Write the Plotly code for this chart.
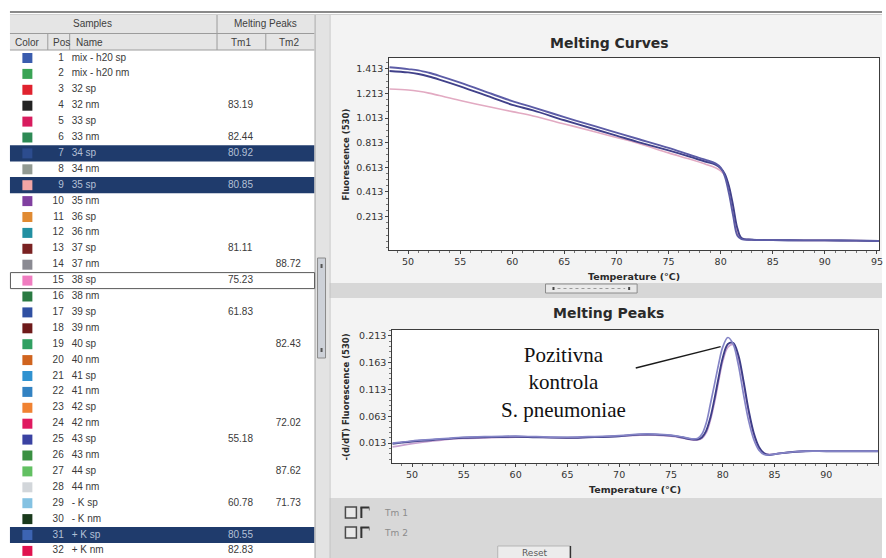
import plotly.graph_objects as go

W, H = 886, 558

# ---------------- sample list ----------------
positions = list(range(1, 33))
sample_names = ["mix - h20 sp", "mix - h20 nm", "32 sp", "32 nm", "33 sp", "33 nm", "34 sp", "34 nm",
                "35 sp", "35 nm", "36 sp", "36 nm", "37 sp", "37 nm", "38 sp", "38 nm",
                "39 sp", "39 nm", "40 sp", "40 nm", "41 sp", "41 nm", "42 sp", "42 nm",
                "43 sp", "43 nm", "44 sp", "44 nm", "- K sp", "- K nm", "+ K sp", "+ K nm"]
tm1_values = ["", "", "", "83.19", "", "82.44", "80.92", "", "80.85", "", "", "", "81.11", "", "75.23", "",
              "61.83", "", "", "", "", "", "", "", "55.18", "", "", "", "60.78", "", "80.55", "82.83"]
tm2_values = ["", "", "", "", "", "", "", "", "", "", "", "", "", "88.72", "", "",
              "", "", "82.43", "", "", "", "", "72.02", "", "", "87.62", "", "71.73", "", "", ""]
swatch_colors = ["#3a5cae", "#3aa455", "#e0222e", "#222222", "#d81c5e", "#2e8a55", "#2c4c8e", "#929a92",
                 "#f2a6a6", "#8040a0", "#e08a32", "#2290a2", "#7a2222", "#8a8a92", "#f07cc0", "#2a7a42",
                 "#3050a2", "#6e1a1a", "#30a062", "#d0641e", "#3092d0", "#3282c2", "#f08232", "#e01a60",
                 "#3a42a2", "#3a9042", "#62c062", "#d2d6da", "#84c2e2", "#1a3a1c", "#3c64b2", "#e0124e"]
selected_rows = [7, 9, 31]
focused_row = 15

# ---------------- melting curves ----------------
mc_temp = [48.2, 50, 51, 52, 53, 55, 58, 60, 62, 65, 68, 70, 72, 75, 77, 78.5, 79.5, 80.0,
           80.4, 80.8, 81.2, 81.6, 82.0, 83, 85, 88, 90, 93, 95.2]
mc_fluor_a = [1.425, 1.41, 1.40, 1.38, 1.355, 1.30, 1.21, 1.15, 1.10, 1.02, 0.945, 0.895, 0.845, 0.77,
              0.715, 0.675, 0.645, 0.61, 0.54, 0.40, 0.22, 0.06, 0.03, 0.025, 0.022, 0.02, 0.02, 0.018, 0.015]
mc_fluor_b = [1.395, 1.383, 1.37, 1.35, 1.325, 1.27, 1.18, 1.12, 1.075, 0.995, 0.92, 0.87, 0.82, 0.75,
              0.70, 0.66, 0.635, 0.605, 0.56, 0.46, 0.30, 0.12, 0.04, 0.026, 0.022, 0.02, 0.02, 0.018, 0.015]
mc_fluor_c = [1.248, 1.24, 1.23, 1.215, 1.195, 1.155, 1.10, 1.065, 1.03, 0.965, 0.90, 0.855, 0.81, 0.73,
              0.68, 0.64, 0.61, 0.585, 0.55, 0.45, 0.27, 0.08, 0.035, 0.025, 0.022, 0.02, 0.02, 0.018, 0.015]
mc_yticks = [0.213, 0.413, 0.613, 0.813, 1.013, 1.213, 1.413]

# ---------------- melting peaks ----------------
mp_temp = [48.1, 49, 50, 52, 54, 55, 57, 60, 62, 65, 67, 70, 72, 73.5, 75, 76, 77, 77.6, 78.0, 78.4,
           78.8, 79.2, 79.6, 80.0, 80.5, 81.0, 81.5, 82.0, 82.5, 83.0, 83.5, 84.0, 84.5, 85.5, 87, 88,
           90, 92, 95]
mp_deriv_a = [0.013, 0.015, 0.017, 0.020, 0.023, 0.024, 0.025, 0.026, 0.025, 0.024, 0.025, 0.027, 0.030,
              0.030, 0.028, 0.025, 0.021, 0.022, 0.030, 0.050, 0.085, 0.122, 0.160, 0.192, 0.210, 0.198,
              0.160, 0.105, 0.055, 0.020, 0.000, -0.008, -0.009, -0.006, -0.003, -0.002, -0.002, -0.002, -0.002]
mp_deriv_b = [0.012, 0.014, 0.016, 0.019, 0.022, 0.023, 0.024, 0.025, 0.024, 0.023, 0.024, 0.026, 0.029,
              0.029, 0.027, 0.024, 0.020, 0.020, 0.024, 0.036, 0.060, 0.095, 0.135, 0.172, 0.198, 0.200,
              0.178, 0.130, 0.075, 0.032, 0.006, -0.006, -0.009, -0.006, -0.003, -0.002, -0.002, -0.002, -0.002]
mp_deriv_c = [0.006, 0.009, 0.012, 0.017, 0.021, 0.022, 0.023, 0.024, 0.024, 0.023, 0.024, 0.026, 0.028,
              0.028, 0.026, 0.023, 0.019, 0.019, 0.022, 0.032, 0.055, 0.088, 0.128, 0.165, 0.192, 0.197,
              0.172, 0.125, 0.070, 0.028, 0.004, -0.006, -0.008, -0.006, -0.003, -0.002, -0.002, -0.002, -0.002]
mp_yticks = [0.013, 0.063, 0.113, 0.163, 0.213]

temp_ticks_curves = [50, 55, 60, 65, 70, 75, 80, 85, 90, 95]
temp_ticks_peaks = [50, 55, 60, 65, 70, 75, 80, 85, 90]


def X(px):
    return px / W


def Y(py):
    return 1 - py / H


shapes = []


def box(x0, y0, x1, y1, fill=None, line=None, lw=1, layer="below", xref="paper", yref="paper"):
    if xref == "paper":
        x0, x1 = X(x0), X(x1)
    if yref == "paper":
        y0, y1 = Y(y1), Y(y0)
    shapes.append(dict(type="rect", xref=xref, yref=yref, x0=x0, x1=x1, y0=y0, y1=y1,
                       fillcolor=fill or "rgba(0,0,0,0)",
                       line=dict(color=line or "rgba(0,0,0,0)", width=lw if line else 0),
                       layer=layer))


def seg(x0, y0, x1, y1, color, lw=1, layer="below", dash="solid"):
    shapes.append(dict(type="line", xref="paper", yref="paper", x0=X(x0), x1=X(x1), y0=Y(y0), y1=Y(y1),
                       line=dict(color=color, width=lw, dash=dash), layer=layer))


ROW0, ROWH = 58.0, 15.9
row_y = [ROW0 + i * ROWH for i in range(len(positions))]

# ---- window frame ----
seg(10, 12, 886, 12, "#8a8a8a", 2)
seg(10, 14.5, 886, 14.5, "#cfcfcf", 1)

# ---- table header ----
box(10, 15, 316, 50, fill="#e5e5e5")
seg(10, 33.5, 316, 33.5, "#9c9c9c", 1)
seg(10, 50, 316, 50, "#9c9c9c", 1)
seg(218, 15, 218, 50, "#9c9c9c", 1)
seg(48, 33.5, 48, 50, "#9c9c9c", 1)
seg(70, 33.5, 70, 50, "#9c9c9c", 1)
seg(267, 33.5, 267, 50, "#9c9c9c", 1)

# selected rows
for r in selected_rows:
    yc = row_y[r - 1]
    box(10, yc - 8.1, 316, yc + 8.1, fill="#1f3b6c")
# focused row outline
yc = row_y[focused_row - 1]
box(10.5, yc - 8, 316, yc + 8, line="#5a5a5a", lw=1, layer="above")

# ---- scrollbar column ----
box(316, 15, 331, 558, fill="#e3e3e3")
seg(316.5, 15, 316.5, 558, "#a8a8a8", 1)
box(319, 258, 327, 358, fill="#cdd1d8", line="#8a8a8a", lw=1)
seg(323, 264, 323, 268, "#555", 2)
seg(323, 348, 323, 352, "#555", 2)

# ---- chart panels ----
box(331, 15, 886, 283, fill="#f3f3f3")
box(331, 283, 886, 298, fill="#d7d7d7")
box(331, 298, 886, 498, fill="#f3f3f3")
box(331, 498, 886, 558, fill="#d8d8d8")
seg(331.5, 15, 331.5, 558, "#c2c2c2", 1)

# plot backgrounds
box(0, 0, 1, 1, fill="white", xref="x domain", yref="y domain")
box(0, 0, 1, 1, fill="white", xref="x2 domain", yref="y2 domain")

# splitter grip
box(548, 284, 640, 293, fill="#e9e9e9", line="#8c8c8c", lw=1)
seg(560, 288.5, 628, 288.5, "#9a9a9a", 1, dash="dot")
seg(556, 287, 556, 290, "#444", 2)
seg(632, 287, 632, 290, "#444", 2)

# check boxes under the peaks chart
for cy in (512.5, 532.5):
    box(347, cy - 5.5, 358, cy + 5.5, fill="#e8e8e8", line="#4a4a4a", lw=1.5)
    seg(363, cy + 5.5, 363, cy - 5, "#333", 2)
    seg(362, cy - 5, 371, cy - 5, "#333", 2)
    seg(371, cy - 5, 371, cy - 2, "#777", 1)

# reset button
box(500, 546, 573, 562, fill="#ececec", line="#b5b5b5", lw=1)
seg(573, 546, 573, 558, "#333", 1.5)

# pointer from the label to the positive control peak
shapes.append(dict(type="line", xref="x2", yref="y2", x0=71.6, y0=0.153, x1=79.8, y1=0.193,
                   line=dict(color="#1a1a1a", width=1.5), layer="above"))

fig = go.Figure()

# ---- sample list traces (pixel canvas axis) ----
normal_col, sel_col = "#3a3a3a", "#b4c0d6"
txt_cols = [sel_col if p in selected_rows else normal_col for p in positions]
fig.add_trace(go.Scatter(x=[27.5] * len(positions), y=row_y, mode="markers",
                         marker=dict(symbol="square", size=10, color=swatch_colors, line=dict(width=0)),
                         xaxis="x3", yaxis="y3", hoverinfo="skip"))
fig.add_trace(go.Scatter(x=[64] * len(positions), y=row_y, mode="text", text=[str(p) for p in positions],
                         textposition="middle left",
                         textfont=dict(family="Liberation Sans", size=10, color=txt_cols),
                         xaxis="x3", yaxis="y3", hoverinfo="skip"))
fig.add_trace(go.Scatter(x=[72] * len(positions), y=row_y, mode="text", text=sample_names,
                         textposition="middle right",
                         textfont=dict(family="Liberation Sans", size=10, color=txt_cols),
                         xaxis="x3", yaxis="y3", hoverinfo="skip"))
fig.add_trace(go.Scatter(x=[229] * len(positions), y=row_y, mode="text", text=tm1_values,
                         textposition="middle right",
                         textfont=dict(family="Liberation Sans", size=10, color=txt_cols),
                         xaxis="x3", yaxis="y3", hoverinfo="skip"))
fig.add_trace(go.Scatter(x=[277] * len(positions), y=row_y, mode="text", text=tm2_values,
                         textposition="middle right",
                         textfont=dict(family="Liberation Sans", size=10, color=txt_cols),
                         xaxis="x3", yaxis="y3", hoverinfo="skip"))

# ---- melting curves ----
for ys, col, w in ((mc_fluor_c, "#e2aac2", 1.6), (mc_fluor_b, "#41418a", 1.9), (mc_fluor_a, "#5c5ca6", 1.9)):
    fig.add_trace(go.Scatter(x=mc_temp, y=ys, mode="lines", line=dict(color=col, width=w, shape="spline"),
                             xaxis="x", yaxis="y", hoverinfo="skip"))

# ---- melting peaks ----
for ys, col, w in ((mp_deriv_c, "#c8a2d0", 1.7), (mp_deriv_b, "#3e3e88", 1.9), (mp_deriv_a, "#8484c6", 1.7)):
    fig.add_trace(go.Scatter(x=mp_temp, y=ys, mode="lines", line=dict(color=col, width=w, shape="spline"),
                             xaxis="x2", yaxis="y2", hoverinfo="skip"))

tick_font = dict(family="DejaVu Sans", size=9.5, color="#333333")
axis_common = dict(showline=True, mirror=True, linecolor="#3c3c3c", linewidth=1, showgrid=False,
                   zeroline=False, ticks="outside", ticklen=3, tickcolor="#444444", tickfont=tick_font,
                   ticklabeloverflow="allow", fixedrange=True)

annotations = []


def label(text, px, py, size, bold=False, color="#2a2a2a", family="DejaVu Sans", angle=0, anchor="center"):
    annotations.append(dict(text=f"<b>{text}</b>" if bold else text, x=X(px), y=Y(py), xref="paper",
                            yref="paper", showarrow=False, textangle=angle, xanchor=anchor, yanchor="middle",
                            font=dict(family=family, size=size, color=color)))


label("Samples", 93, 24, 10, family="Liberation Sans", color="#404040")
label("Melting Peaks", 267, 24, 10, family="Liberation Sans", color="#404040")
label("Color", 13, 42, 10, family="Liberation Sans", color="#404040", anchor="left")
label("Pos", 51, 42, 10, family="Liberation Sans", color="#404040", anchor="left")
label("Name", 74, 42, 10, family="Liberation Sans", color="#404040", anchor="left")
label("Tm1", 242, 42, 10, family="Liberation Sans", color="#404040")
label("Tm2", 290, 42, 10, family="Liberation Sans", color="#404040")

label("Melting Curves", 612, 43, 14, bold=True)
label("Melting Peaks", 611, 313, 14, bold=True)
label("Temperature (°C)", 637, 276, 9.5, bold=True)
label("Temperature (°C)", 638, 489, 9.5, bold=True)
label("Fluorescence (530)", 348, 154, 8.5, bold=True, angle=-90)
label("-(d/dT) Fluorescence (530)", 348, 397, 8.5, bold=True, angle=-90)
label("Tm 1", 384, 513, 9, color="#8c8c8c", anchor="left")
label("Tm 2", 384, 533, 9, color="#8c8c8c", anchor="left")
label("Reset", 537, 552.5, 9, color="#5a5a5a")

annotations.append(dict(text="Pozitivna<br>kontrola<br>S. pneumoniae", x=64.6, y=0.1254, xref="x2", yref="y2",
                        showarrow=False, xanchor="center", yanchor="middle", align="center",
                        font=dict(family="Liberation Serif", size=21, color="#111111")))

fig.update_layout(
    width=W, height=H, margin=dict(l=0, r=0, t=0, b=0),
    paper_bgcolor="white", plot_bgcolor="rgba(0,0,0,0)", showlegend=False,
    xaxis=dict(domain=[X(391), X(883)], range=[48.19, 95.2], anchor="y", tickvals=temp_ticks_curves,
               minor=dict(ticks="outside", ticklen=2, dtick=1, tickcolor="#777777"), **axis_common),
    yaxis=dict(domain=[Y(250), Y(58)], range=[-0.058, 1.50], anchor="x", tickvals=mc_yticks,
               tickformat=".3f", minor=dict(ticks="outside", ticklen=2, dtick=0.05, tick0=0.013,
                                            tickcolor="#777777"), **axis_common),
    xaxis2=dict(domain=[X(394), X(882)], range=[48.08, 95.0], anchor="y2", tickvals=temp_ticks_peaks,
                minor=dict(ticks="outside", ticklen=2, dtick=1, tickcolor="#777777"), **axis_common),
    yaxis2=dict(domain=[Y(463), Y(330)], range=[-0.024, 0.224], anchor="x2", tickvals=mp_yticks,
                tickformat=".3f", minor=dict(ticks="outside", ticklen=2, dtick=0.01, tick0=0.003,
                                             tickcolor="#777777"), **axis_common),
    xaxis3=dict(domain=[0, X(330)], range=[0, 330], visible=False, anchor="y3", fixedrange=True),
    yaxis3=dict(domain=[0, 1], range=[H, 0], visible=False, anchor="x3", fixedrange=True),
    shapes=shapes, annotations=annotations,
)

fig.write_html("out.html")
